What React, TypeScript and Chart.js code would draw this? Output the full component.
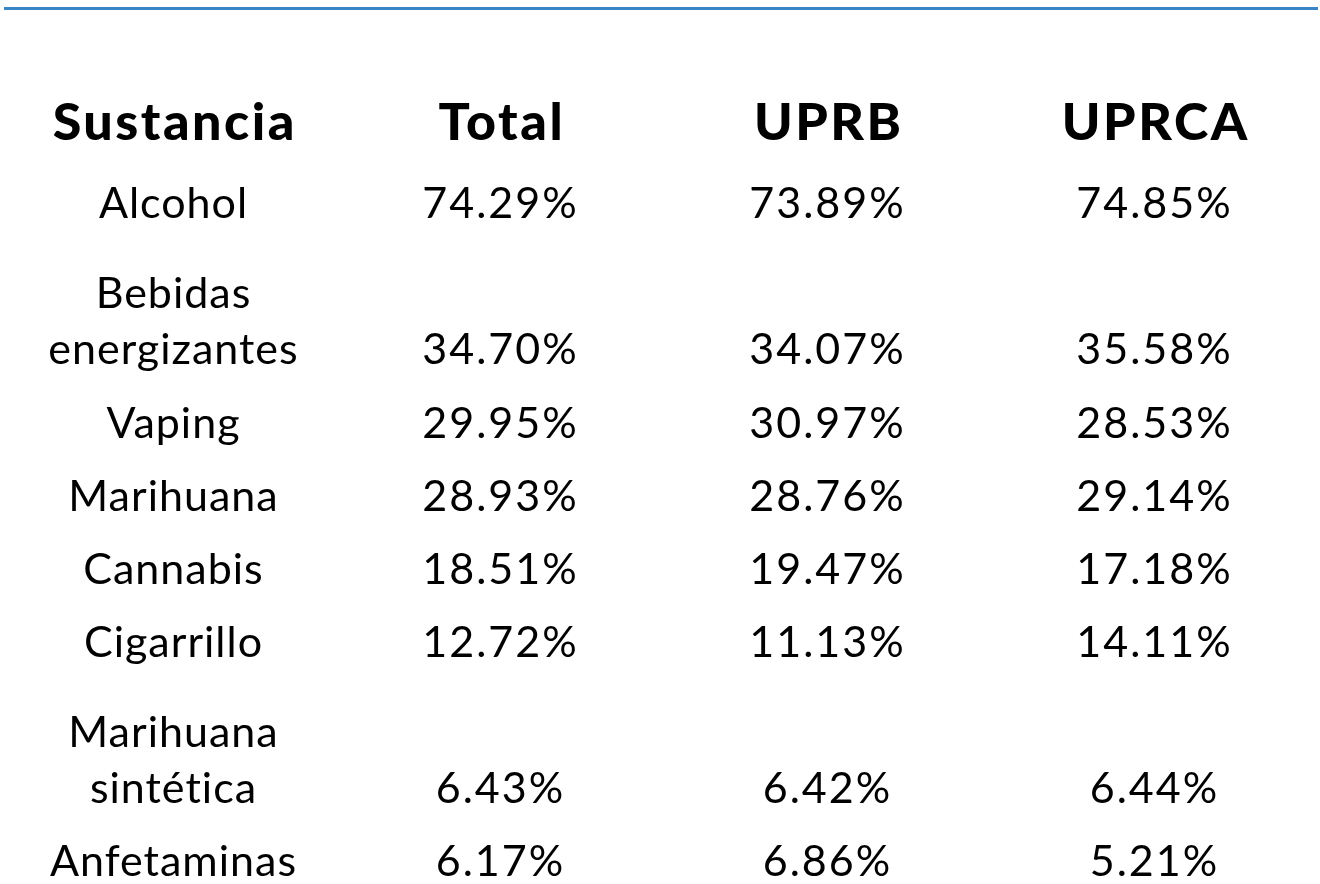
import React, { useEffect, useRef } from "react";
import { Chart, registerables } from "chart.js";

Chart.register(...registerables);

const HEADERS = ["Sustancia", "Total", "UPRB", "UPRCA"];
const SUSTANCIAS: string[][] = [
  ["Alcohol"],
  ["Bebidas", "energizantes"],
  ["Vaping"],
  ["Marihuana"],
  ["Cannabis"],
  ["Cigarrillo"],
  ["Marihuana", "sintética"],
  ["Anfetaminas"],
];
const TOTAL = [74.29, 34.7, 29.95, 28.93, 18.51, 12.72, 6.43, 6.17];
const UPRB = [73.89, 34.07, 30.97, 28.76, 19.47, 11.13, 6.42, 6.86];
const UPRCA = [74.85, 35.58, 28.53, 29.14, 17.18, 14.11, 6.44, 5.21];

const FONT = "Lato";
const BODY_SIZE = 43;
const HEAD_SIZE = 52;
const LINE_GAP = 56;
const HEADER_GAP = 45;

export default function App() {
  const ref = useRef<HTMLCanvasElement>(null);

  useEffect(() => {
    if (!ref.current) return;
    // row position = cumulative number of text lines (value sits on last line)
    const rowPos: number[] = [];
    let acc = 0;
    SUSTANCIAS.forEach((l) => {
      acc += l.length;
      rowPos.push(acc);
    });

    const labelTexts: string[][][] = [
      SUSTANCIAS,
      TOTAL.map((v) => [v.toFixed(2) + "%"]),
      UPRB.map((v) => [v.toFixed(2) + "%"]),
      UPRCA.map((v) => [v.toFixed(2) + "%"]),
    ];
    const columns = [SUSTANCIAS.map(() => 0), TOTAL, UPRB, UPRCA];

    const textPlugin = {
      id: "cellText",
      afterDatasetsDraw(chart: any) {
        const ctx = chart.ctx;
        const xs = chart.scales.x;
        ctx.save();
        ctx.fillStyle = "#000000";
        ctx.textAlign = "center";
        ctx.textBaseline = "alphabetic";

        // header row
        ctx.font = `900 ${HEAD_SIZE}px ${FONT}`;
        (ctx as any).letterSpacing = "2.5px";
        const hCap = ctx.measureText("H").actualBoundingBoxAscent;
        const hy = chart.chartArea.top - HEADER_GAP;
        HEADERS.forEach((h, i) => {
          ctx.fillText(h, xs.getPixelForValue(i) + 1.25, hy + hCap / 2);
        });

        // body cells
        ctx.font = `400 ${BODY_SIZE}px ${FONT}`;
        const cap = ctx.measureText("H").actualBoundingBoxAscent;
        chart.data.datasets.forEach((_ds: any, di: number) => {
          (ctx as any).letterSpacing = di === 0 ? "1px" : "2px";
          const meta = chart.getDatasetMeta(di);
          meta.data.forEach((el: any, i: number) => {
            const lines = labelTexts[di][i];
            const n = lines.length;
            lines.forEach((t: string, li: number) => {
              ctx.fillText(t, el.x, el.y + cap / 2 - (n - 1 - li) * LINE_GAP);
            });
          });
        });
        ctx.restore();
      },
    };

    const chart = new Chart(ref.current, {
      type: "scatter",
      data: {
        datasets: columns.map((col, ci) => ({
          label: HEADERS[ci],
          data: col.map((_v, i) => ({ x: ci, y: rowPos[i] })),
          pointRadius: 0,
          pointHoverRadius: 0,
        })),
      },
      options: {
        responsive: false,
        maintainAspectRatio: false,
        animation: false,
        events: [],
        layout: { padding: { left: 10, right: 2, top: 166, bottom: 0 } },
        plugins: { legend: { display: false }, tooltip: { enabled: false } },
        scales: {
          x: {
            type: "linear",
            min: -0.5,
            max: 3.5,
            display: false,
          },
          y: {
            type: "linear",
            reverse: true,
            min: 0.5,
            max: 10.316,
            display: false,
          },
        },
      },
      plugins: [textPlugin],
    });
    return () => chart.destroy();
  }, []);

  return (
    <div style={{ position: "absolute", left: 0, top: 0, width: 1320, height: 884, background: "#ffffff" }}>
      <div style={{ position: "absolute", left: 4, top: 7, width: 1314, height: 3, background: "#3a85c6" }} />
      <canvas ref={ref} width={1320} height={884} style={{ display: "block" }} />
    </div>
  );
}
